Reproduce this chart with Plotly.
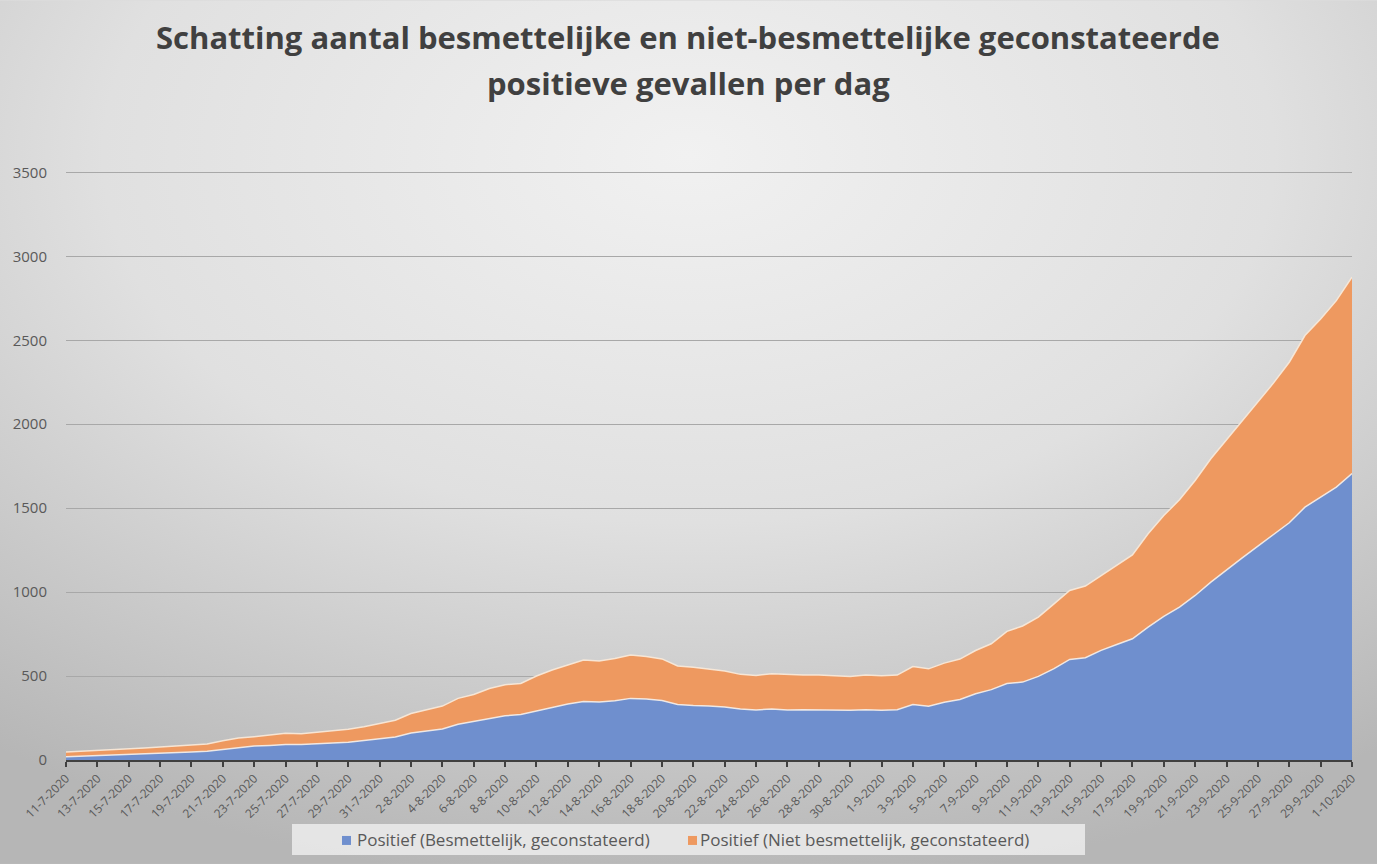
import datetime as dt
import urllib.parse
import plotly.graph_objects as go

start = dt.date(2020, 7, 11)
dates = [f"{(start + dt.timedelta(days=i)).day}-{(start + dt.timedelta(days=i)).month}-2020" for i in range(83)]

besmettelijk = [20, 23, 26, 29, 32, 36, 40, 44, 48, 52,
                63, 75, 83, 87, 93, 93, 99, 101, 105, 115,
                127, 137, 161, 173, 185, 213, 229, 249, 263, 271,
                293, 315, 333, 349, 345, 353, 367, 363, 355, 331,
                324, 322, 316, 304, 298, 304, 298, 300, 298, 296,
                296, 300, 296, 300, 330, 320, 344, 360, 395, 419,
                455, 464, 498, 544, 599, 609, 653, 688, 722, 792,
                855, 911, 980, 1059, 1133, 1204, 1274, 1341, 1413, 1506,
                1565, 1625, 1706]

niet_besmettelijk = [28, 29, 30, 31, 33, 35, 37, 39, 41, 43,
                     52, 56, 56, 62, 66, 64, 68, 72, 78, 83,
                     91, 100, 116, 124, 136, 154, 161, 177, 185, 185,
                     207, 221, 233, 247, 245, 251, 258, 253, 247, 229,
                     228, 221, 214, 206, 206, 210, 210, 206, 208, 206,
                     202, 206, 206, 206, 227, 223, 233, 241, 257, 273,
                     311, 334, 353, 386, 411, 427, 446, 475, 500, 555,
                     601, 639, 685, 735, 774, 818, 857, 905, 956, 1022,
                     1062, 1111, 1170]

series_names = ["Positief (Besmettelijk, geconstateerd)",
                "Positief (Niet besmettelijk, geconstateerd)"]
tick_labels = dates[::2]
y_ticks = [0, 500, 1000, 1500, 2000, 2500, 3000, 3500]
title_lines = ["Schatting aantal besmettelijke en niet-besmettelijke geconstateerde",
               "positieve gevallen per dag"]

BLUE = "rgb(111,143,206)"
ORANGE = "rgb(238,153,96)"
TEXT = "#595959"

W, H = 1377, 864
YMAX = 3520
px_per_unit = 588 / 3500
B = H - 760
T = 760 - YMAX * px_per_unit
L, R = 66, 25
pw, ph = W - L - R, H - T - B


def py(ypix):
    return (H - B - ypix) / ph


def pxx(xpix):
    return (xpix - L) / pw


svg = (
    "<svg xmlns='http://www.w3.org/2000/svg' width='1377' height='864' preserveAspectRatio='none'>"
    "<defs><radialGradient id='g' cx='50%' cy='18%' r='85%' fx='50%' fy='18%'>"
    "<stop offset='0%' stop-color='#f1f1f1'/>"
    "<stop offset='50%' stop-color='#e0e0e0'/>"
    "<stop offset='100%' stop-color='#b6b6b6'/>"
    "</radialGradient></defs>"
    "<rect width='1377' height='864' fill='url(#g)'/></svg>"
)
svg_uri = "data:image/svg+xml;charset=utf-8," + urllib.parse.quote(svg)

fig = go.Figure()
fig.add_trace(go.Scatter(
    x=dates, y=besmettelijk, name=series_names[0], showlegend=False,
    mode="lines", stackgroup="one",
    line=dict(color="rgba(245,240,235,0.9)", width=1.5),
    fillcolor=BLUE,
))
fig.add_trace(go.Scatter(
    x=dates, y=niet_besmettelijk, name=series_names[1], showlegend=False,
    mode="lines", stackgroup="one",
    line=dict(color="rgba(250,235,220,0.9)", width=1.5),
    fillcolor=ORANGE,
))

annotations = [
    dict(text=f"<b>{title_lines[0]}</b>", xref="paper", yref="paper",
         x=pxx(688), y=py(37), xanchor="center", yanchor="middle", showarrow=False,
         font=dict(family="Open Sans", size=31, color="#404040")),
    dict(text=f"<b>{title_lines[1]}</b>", xref="paper", yref="paper",
         x=pxx(688), y=py(83), xanchor="center", yanchor="middle", showarrow=False,
         font=dict(family="Open Sans", size=31, color="#404040")),
]

# manual legend (box, swatches, labels)
legend_box = dict(type="rect", xref="paper", yref="paper",
                  x0=pxx(292), x1=pxx(1085), y0=py(824), y1=py(855),
                  fillcolor="rgba(232,232,232,0.92)", line=dict(width=0), layer="below")
shapes = [legend_box]
for (sx, tx), nm, col in zip([(342, 357), (688, 700)], series_names, [BLUE, ORANGE]):
    shapes.append(dict(type="rect", xref="paper", yref="paper",
                       x0=pxx(sx), x1=pxx(sx + 9), y0=py(836), y1=py(845),
                       fillcolor=col, line=dict(width=0)))
    annotations.append(dict(text=nm, xref="paper", yref="paper",
                            x=pxx(tx - 2), y=py(840), xanchor="left", yanchor="middle",
                            showarrow=False, font=dict(family="Open Sans", size=17, color=TEXT)))

fig.update_layout(
    width=W, height=H,
    margin=dict(l=L, r=R, t=T, b=B),
    paper_bgcolor="#dcdcdc",
    plot_bgcolor="rgba(0,0,0,0)",
    images=[dict(source=svg_uri, xref="paper", yref="paper",
                 x=-L / pw, y=1 + T / ph, sizex=W / pw, sizey=H / ph,
                 xanchor="left", yanchor="top", sizing="stretch", layer="below")],
    annotations=annotations,
    shapes=shapes,
    font=dict(family="Open Sans", color=TEXT),
    showlegend=False,
    hovermode=False,
)

fig.update_xaxes(
    type="category", range=[0, len(dates) - 1],
    tickmode="array", tickvals=tick_labels, ticktext=tick_labels,
    tickangle=-45, tickfont=dict(size=12, color=TEXT),
    ticks="outside", ticklen=5, tickcolor="#404040", tickwidth=1.5,
    showline=True, linecolor="#404040", linewidth=1.5,
    showgrid=False, zeroline=False, automargin=False,
)
fig.update_yaxes(
    range=[0, YMAX], tickmode="array", tickvals=y_ticks,
    tickfont=dict(size=15, color=TEXT),
    showgrid=True, gridcolor="#a8a8a8", gridwidth=1,
    zeroline=False, showline=False, ticks="", ticklabelstandoff=18, automargin=False,
)

fig.write_html("out.html", config={"displayModeBar": False},
               post_script="document.body.style.margin='0';document.body.style.overflow='hidden';")
